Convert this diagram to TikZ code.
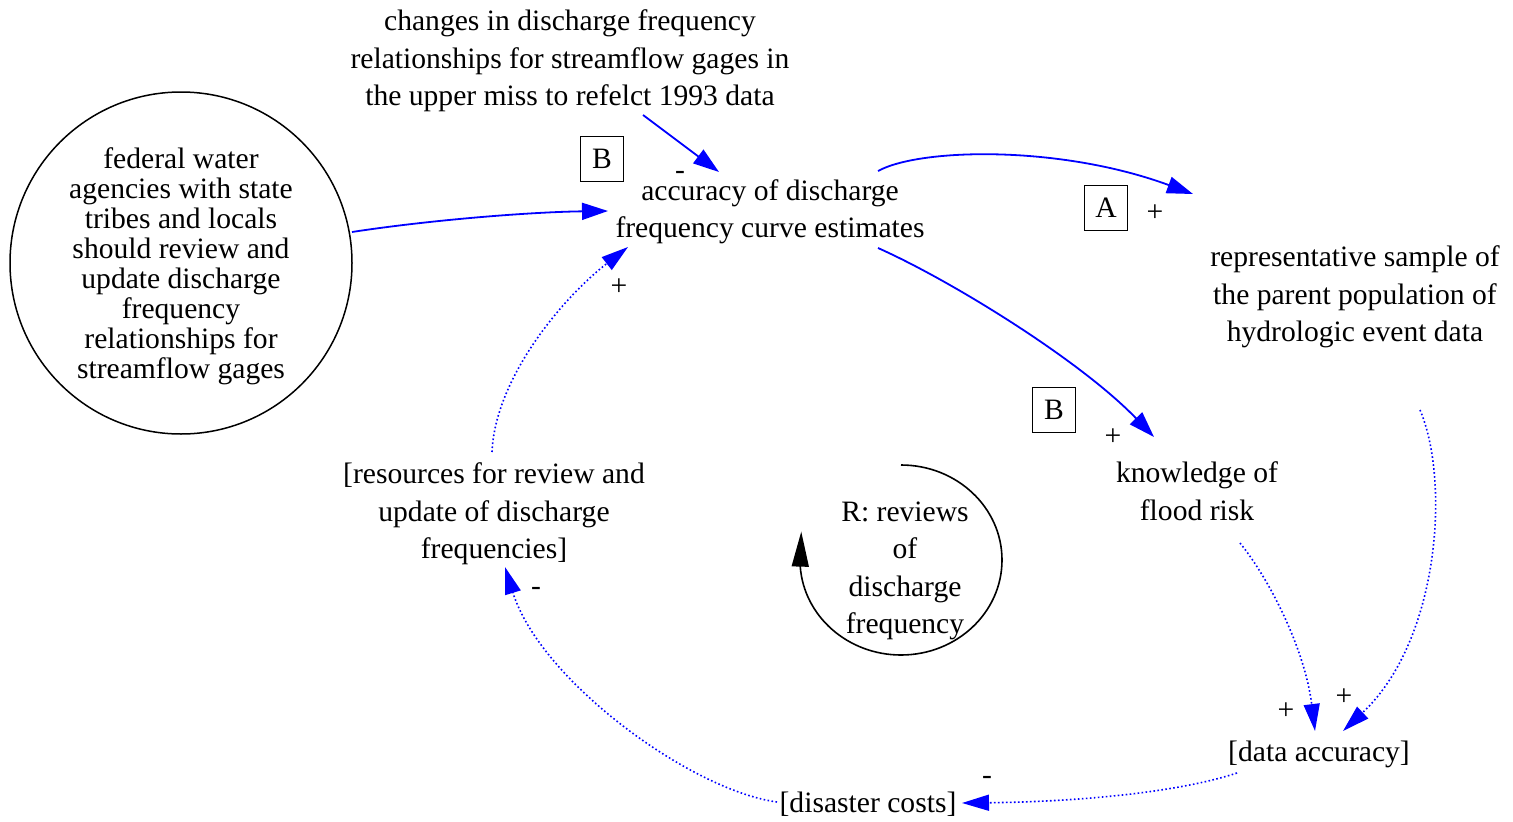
\documentclass[tikz,border=0pt]{standalone}
\usepackage{fontspec}
\setmainfont{Liberation Serif}
\usetikzlibrary{arrows.meta,calc}
\begin{document}
\begin{tikzpicture}[x=1pt,y=-1pt,
  txt/.style={font=\fontsize{29.6}{37.5}\selectfont, align=center, inner sep=0pt},
  circtxt/.style={font=\fontsize{29.6}{30}\selectfont, align=center, inner sep=0pt},
  lab/.style={font=\fontsize{29.6}{30}\selectfont, inner sep=0pt},
  boxlab/.style={draw, line width=1.4pt, minimum width=43pt, minimum height=45pt, inner sep=0pt, font=\fontsize{29.6}{30}\selectfont},
  posedge/.style={blue, line width=1.8pt, -{Triangle[length=26pt,width=17pt]}},
  dotedge/.style={blue, line width=1.6pt, dash pattern=on 1.6pt off 2.4pt, -{Triangle[length=27pt,width=16pt]}},
  loopedge/.style={black, line width=1.6pt, -{Triangle[length=35pt,width=17pt]}}
]
\useasboundingbox (0,0) rectangle (1513,822);

% nodes
\node[txt] (chg) at (570,61) {changes in discharge frequency\\relationships for streamflow gages in\\the upper miss to refelct 1993 data};
\node[circtxt] (fed) at (181,266) {federal water\\agencies with state\\tribes and locals\\should review and\\update discharge\\frequency\\relationships for\\streamflow gages};
\draw[line width=1.5pt] ($(fed)+(0,-3)$) circle[radius=171];
\node[txt] (acc) at (770,212) {accuracy of discharge\\frequency curve estimates};
\node[txt] (rep) at (1355,297) {representative sample of\\the parent population of\\hydrologic event data};
\node[txt] (know) at (1197,491) {knowledge of\\flood risk};
\node[txt] (res) at (494,514) {[resources for review and\\update of discharge\\frequencies]};
\node[txt] (dat) at (1319,754) {[data accuracy]};
\node[txt] (dis) at (868,804) {[disaster costs]};
\node[txt] (loop) at (905,571) {R: reviews\\of\\discharge\\frequency};

% loop labels
\node[boxlab] (b1) at (602,159) {B};
\node[boxlab] (b2) at (1054,410) {B};
\node[boxlab] (a1) at (1106,208) {A};

% polarity labels
\node[lab] (p1) at (1155,213) {+};
\node[lab] (p2) at (1113,437) {+};
\node[lab] (p3) at (619,287) {+};
\node[lab] (p4) at (1286,711) {+};
\node[lab] (p5) at (1344,697) {+};
\node[lab] (m1) at (536,591) {-};
\node[lab] (m2) at (987,780) {-};
\node[lab] (m3) at (680,175) {-};

% edges
\draw[posedge] ($(chg)+(73,54)$) -- ($(acc)+(-51,-40)$);
\draw[posedge] ($(fed)+(171,-34)$) .. controls (430,220) and (530,212) .. ($(acc)+(-162,-1)$);
\draw[posedge] ($(acc)+(108,-41)$) .. controls (920,148) and (1060,145) .. ($(rep)+(-162,-103)$);
\draw[posedge] ($(acc)+(108,36)$) .. controls (950,280) and (1080,360) .. ($(know)+(-43,-54)$);

\draw[dotedge] ($(res)+(-2,-62)$) .. controls (495,380) and (560,300) .. ($(acc)+(-142,35)$);
\draw[dotedge] ($(know)+(43,52)$) .. controls (1270,580) and (1305,650) .. ($(dat)+(-4,-23)$);
\draw[dotedge] ($(rep)+(65,113)$) .. controls (1450,480) and (1440,640) .. ($(dat)+(24,-23)$);
\draw[dotedge] ($(dat)+(-82,19)$) .. controls (1170,795) and (1060,802) .. ($(dis)+(94,-1)$);
\draw[dotedge] ($(dis)+(-91,-2)$) .. controls (690,790) and (540,680) .. ($(res)+(11,53)$);

% loop symbol
\draw[loopedge] ($(loop)+(-4,-106)$) arc[start angle=-90, end angle=176, x radius=101, y radius=95] -- ++(1,-35);
\end{tikzpicture}
\end{document}
